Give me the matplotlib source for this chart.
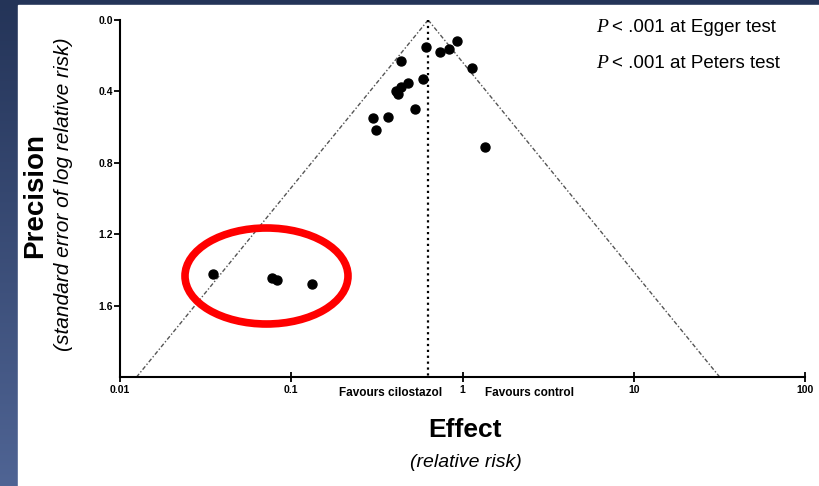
"""
Funnel plot: cilostazol vs control, with small-study cluster circled.
"""
import numpy as np
import matplotlib.pyplot as plt
from matplotlib.patches import Ellipse, Rectangle
from matplotlib.colors import LinearSegmentedColormap

## DATA
rr = [0.615, 0.736, 0.832, 0.931, 1.13, 0.44, 0.586, 0.483, 0.437, 0.407,
      0.418, 0.526, 0.299, 0.369, 0.314, 1.36, 0.0351, 0.077, 0.0824, 0.132]
se = [0.15, 0.178, 0.165, 0.116, 0.271, 0.23, 0.331, 0.352, 0.378, 0.396,
      0.415, 0.501, 0.55, 0.542, 0.617, 0.71, 1.425, 1.445, 1.454, 1.48]
pooled_rr = 0.63
se_max = 2.0
x_ticks = [0.01, 0.1, 1, 10, 100]
x_ticklabels = ['0.01', '0.1', '1', '10', '100']
y_ticks = [0.0, 0.4, 0.8, 1.2, 1.6]
y_ticklabels = ['0.0', '0.4', '0.8', '1.2', '1.6']

plt.rcParams['font.family'] = ['Liberation Sans', 'DejaVu Sans']

fig = plt.figure(figsize=(8.19, 4.86), dpi=100)

# background: navy gradient frame + white panel
bg = fig.add_axes([0, 0, 1, 1], zorder=-10)
grad = np.linspace(0, 1, 256).reshape(-1, 1)
cmap = LinearSegmentedColormap.from_list('bg', ['#243458', '#4f6494'])
bg.imshow(grad, aspect='auto', cmap=cmap, extent=[0, 1, 0, 1], origin='upper')
bg.add_patch(Rectangle((18 / 819, 0), 1, 1 - 5 / 486, color='white'))
bg.set_xlim(0, 1); bg.set_ylim(0, 1)
bg.axis('off')

ax = fig.add_axes([120 / 819, 1 - 377 / 486, 685 / 819, 357 / 486])
ax.patch.set_alpha(0)

# funnel lines
se_line = np.array([0, se_max])
ax.plot(pooled_rr * np.exp(-1.96 * se_line), se_line, color='#555555', lw=1.0, ls=(0, (3, 1.5, 1, 1.5)))
ax.plot(pooled_rr * np.exp(1.96 * se_line), se_line, color='#555555', lw=1.0, ls=(0, (3, 1.5, 1, 1.5)))
ax.plot([pooled_rr, pooled_rr], [0, se_max], color='black', lw=1.6, ls=':')

ax.scatter(rr, se, s=42, color='black', zorder=3)

ax.set_xscale('log')
ax.set_xlim(0.01, 100)
ax.set_ylim(se_max, 0)
ax.set_xticks(x_ticks)
ax.set_xticklabels(x_ticklabels, fontsize=7.5, fontweight='bold')
ax.xaxis.set_minor_locator(plt.NullLocator())
ax.set_yticks(y_ticks)
ax.set_yticklabels(y_ticklabels, fontsize=7.5, fontweight='bold')
ax.tick_params(axis='x', direction='inout', length=7, width=1.3, pad=2)
ax.tick_params(axis='y', direction='out', length=4, width=1.3, pad=1)
for s in ['top', 'right']:
    ax.spines[s].set_visible(False)
for s in ['left', 'bottom']:
    ax.spines[s].set_linewidth(1.5)

ax.text(0.38, 2.09, 'Favours cilostazol', ha='center', va='center', fontsize=8.5,
        fontweight='bold', clip_on=False)
ax.text(2.47, 2.09, 'Favours control', ha='center', va='center', fontsize=8.5,
        fontweight='bold', clip_on=False)

# labels
fig.text(465 / 819, 1 - 430 / 486, 'Effect', ha='center', va='center', fontsize=19, fontweight='bold')
fig.text(466 / 819, 1 - 462 / 486, '(relative risk)', ha='center', va='center', fontsize=14, style='italic')
fig.text(35 / 819, 1 - 196 / 486, 'Precision', ha='center', va='center', rotation=90, fontsize=20,
         fontweight='bold')
fig.text(64 / 819, 1 - 194 / 486, '(standard error of log relative risk)', ha='center', va='center',
         rotation=90, fontsize=15, style='italic')

# test annotations
for yy, txt in [(27, '< .001 at Egger test'), (63, '< .001 at Peters test')]:
    fig.text(596 / 819, 1 - yy / 486, 'P', ha='left', va='center', fontsize=14,
             family='Liberation Serif', style='italic')
    fig.text(612 / 819, 1 - yy / 486, txt, ha='left', va='center', fontsize=13.5)

# red circle around small studies
ax.add_patch(Ellipse(((266.5 - 120) / 685, 1 - (276 - 20) / 357), 163 / 685, 96 / 357,
                     transform=ax.transAxes, fill=False, edgecolor='#ff0000', lw=5.5, zorder=4))

fig.savefig('out.png', dpi=100)
